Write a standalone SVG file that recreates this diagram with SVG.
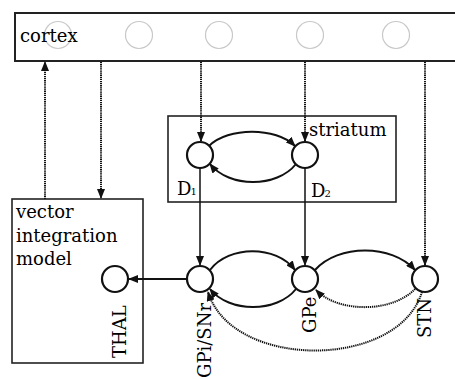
<svg xmlns="http://www.w3.org/2000/svg" width="455" height="380" viewBox="0 0 455 380">
<style>
  text { font-family: "DejaVu Serif", "Liberation Serif", serif; font-size: 18px; fill: #000; }
  .box { fill: none; stroke: #222; stroke-width: 1.6; }
  .ghost { fill: none; stroke: #c8c8c8; stroke-width: 1.2; }
  .node { fill: #fff; stroke: #111; stroke-width: 2.2; }
  .solid { fill: none; stroke: #111; stroke-width: 2; }
  .thin { fill: none; stroke: #111; stroke-width: 1.5; }
  .dot { fill: none; stroke: #111; stroke-width: 2; stroke-dasharray: 1.3 0.8; }
</style>
<defs>
  <marker id="ah" markerUnits="userSpaceOnUse" markerWidth="10" markerHeight="8" refX="9" refY="4" orient="auto">
    <path d="M0,0 L10,4 L0,8 Z" fill="#111"/>
  </marker>
</defs>

<g id="cortex">
  <path class="box" d="M470,13 H15 V61 H470" style="stroke-width:2"/>
  <circle class="ghost" cx="58" cy="35" r="13.5"/>
  <circle class="ghost" cx="139" cy="35" r="13.5"/>
  <circle class="ghost" cx="219" cy="35" r="13.5"/>
  <circle class="ghost" cx="310" cy="35" r="13.5"/>
  <circle class="ghost" cx="396" cy="35" r="13.5"/>
  <text x="20" y="42">cortex</text>
</g>

<g id="striatum">
  <rect class="box" x="168" y="116" width="228" height="86"/>
  <text x="309" y="136">striatum</text>
</g>

<g id="vim">
  <rect class="box" x="12" y="199" width="131" height="164"/>
  <text x="16" y="218">vector</text>
  <text x="16" y="242">integration</text>
  <text x="16" y="265">model</text>
</g>

<g id="connectors">
  <!-- dotted cortex links -->
  <line class="dot" x1="45" y1="199" x2="45" y2="62" marker-end="url(#ah)"/>
  <line class="dot" x1="101" y1="62" x2="101" y2="198" marker-end="url(#ah)"/>
  <line class="dot" x1="201" y1="62" x2="201" y2="141" marker-end="url(#ah)"/>
  <line class="dot" x1="305" y1="62" x2="305" y2="141" marker-end="url(#ah)"/>
  <line class="dot" x1="425" y1="62" x2="425" y2="265" marker-end="url(#ah)"/>
  <!-- striatum loop -->
  <path class="solid" d="M209,146 C228,127 276,127 295,146" marker-end="url(#ah)"/>
  <path class="solid" d="M296,164 C277,188 229,188 210,164" marker-end="url(#ah)"/>
  <!-- striatum to GPi / GPe -->
  <line class="thin" x1="200" y1="168" x2="200" y2="265" marker-end="url(#ah)"/>
  <line class="thin" x1="305" y1="168" x2="305" y2="265" marker-end="url(#ah)"/>
  <!-- GPi to THAL -->
  <line class="solid" x1="187" y1="279" x2="129" y2="279" marker-end="url(#ah)"/>
  <!-- GPi <-> GPe -->
  <path class="solid" d="M210,270 C229,245 276,245 295,270" marker-end="url(#ah)"/>
  <path class="solid" d="M296,289 C277,313 229,313 210,289" marker-end="url(#ah)"/>
  <!-- GPe -> STN -->
  <path class="solid" d="M315,270 C338,244 392,244 415,270" marker-end="url(#ah)"/>
  <!-- STN -> GPe dotted -->
  <path class="dot" d="M415,289 C392,313 338,313 316,290" marker-end="url(#ah)"/>
  <!-- STN -> GPi dotted -->
  <path class="dot" d="M422,292 C398,370 232,370 208,292" marker-end="url(#ah)"/>
</g>

<g id="D1">
  <circle class="node" cx="200" cy="155" r="13"/>
  <text x="177" y="195">D<tspan font-size="10" dx="-1">1</tspan></text>
</g>
<g id="D2">
  <circle class="node" cx="305" cy="155" r="13"/>
  <text x="311" y="197">D<tspan font-size="10" dx="-1">2</tspan></text>
</g>
<g id="THAL">
  <circle class="node" cx="115" cy="279" r="13"/>
  <text transform="translate(126,358) rotate(-90)">THAL</text>
</g>
<g id="GPi">
  <circle class="node" cx="200" cy="279" r="13"/>
  <text transform="translate(211,378) rotate(-90)">GPi/SNr</text>
</g>
<g id="GPe">
  <circle class="node" cx="305" cy="279" r="13"/>
  <text transform="translate(316,333) rotate(-90)">GPe</text>
</g>
<g id="STN">
  <circle class="node" cx="425" cy="279" r="13"/>
  <text transform="translate(431,338) rotate(-90)">STN</text>
</g>
</svg>
